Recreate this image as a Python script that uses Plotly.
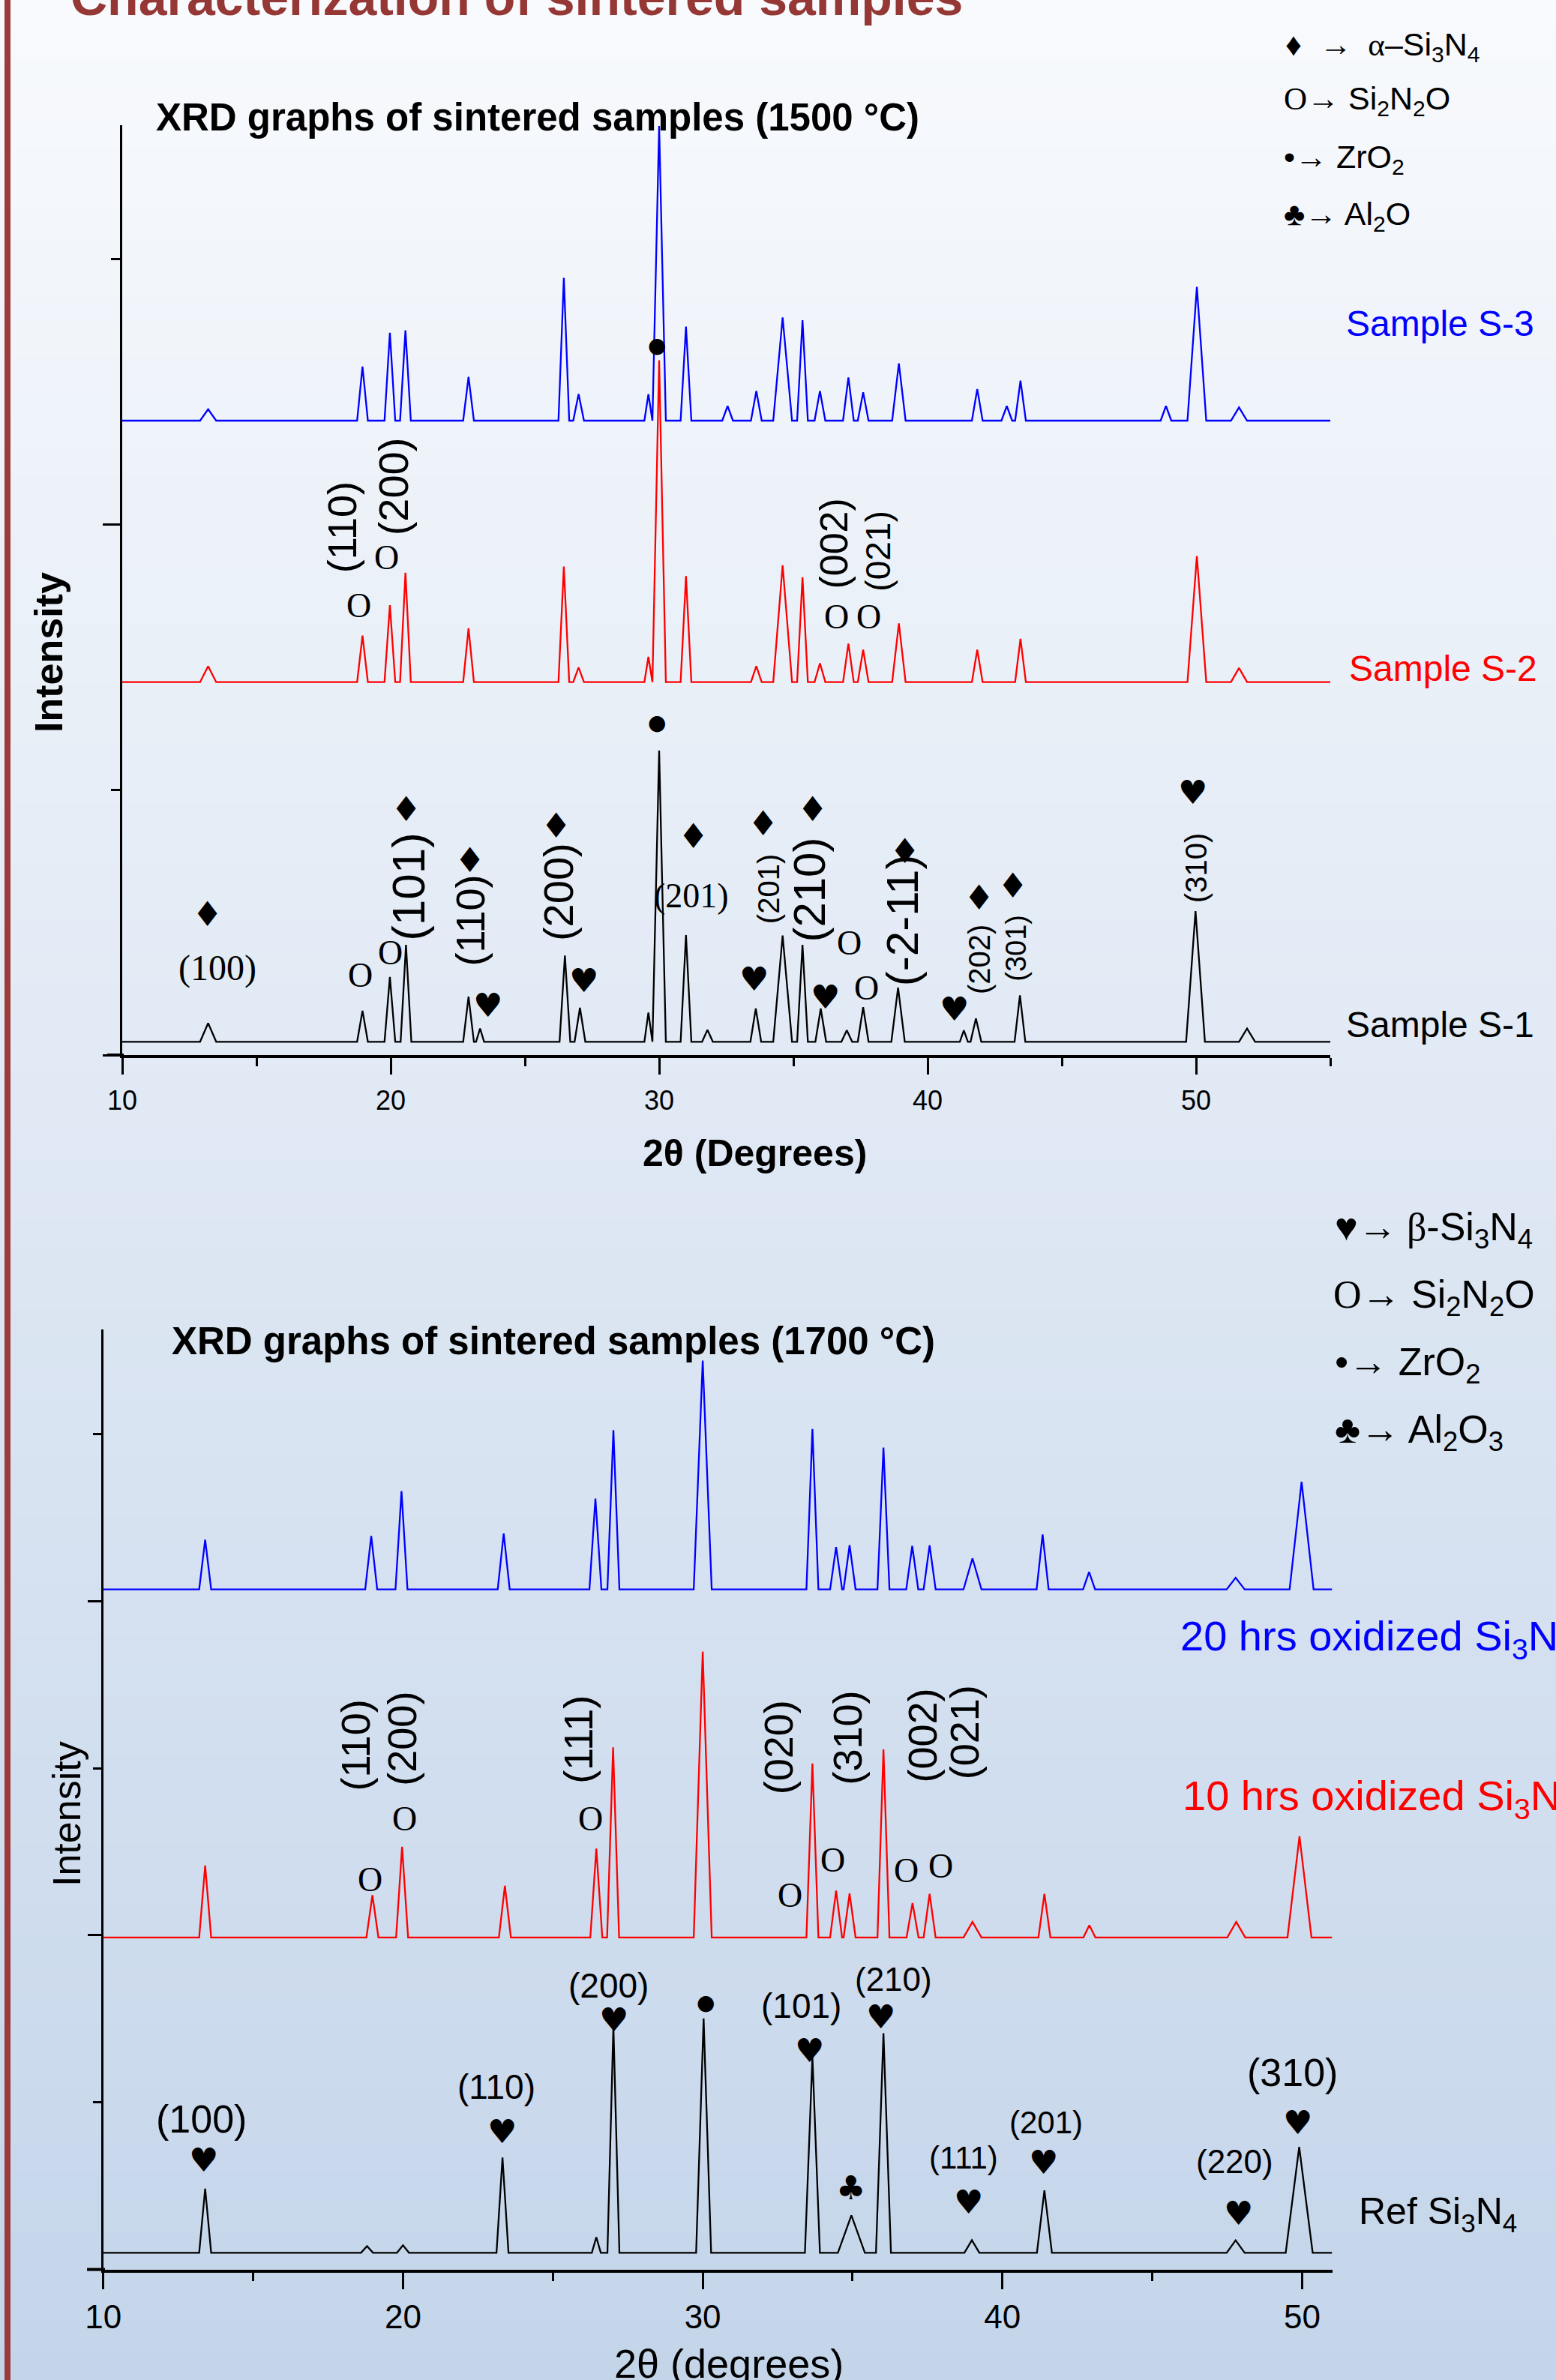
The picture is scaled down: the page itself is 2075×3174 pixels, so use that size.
import plotly.graph_objects as go

W, H = 2075, 3174
SANS = "Liberation Sans"
SERIF = "Liberation Serif"
SYM = "DejaVu Sans"

# ---------------- data : 1500 °C panel ----------------
s3_base = 2390
s3_pos = [13.2, 18.95, 19.97, 20.55, 22.9, 26.45, 27.0, 29.6, 30.0, 31.0, 32.55, 33.62, 34.6, 35.34,
          35.99, 37.05, 37.6, 38.93, 41.85, 42.95, 43.46, 48.88, 50.03, 51.6]
s3_int = [2433, 2594, 2721, 2730, 2555, 2928, 2490, 2490, 3500, 2744, 2445, 2502, 2779, 2768,
          2502, 2553, 2497, 2606, 2509, 2445, 2541, 2445, 2894, 2440]
s3_hw = [0.3, 0.2, 0.2, 0.2, 0.2, 0.2, 0.2, 0.15, 0.25, 0.2, 0.2, 0.2, 0.35, 0.2,
         0.2, 0.2, 0.2, 0.25, 0.2, 0.2, 0.2, 0.2, 0.35, 0.3]

s2_base = 1405
s2_pos = [13.2, 18.95, 19.97, 20.55, 22.9, 26.45, 27.0, 29.6, 30.0, 31.0, 33.62, 34.6, 35.34,
          35.99, 37.05, 37.6, 38.93, 41.85, 43.46, 50.03, 51.6]
s2_int = [1465, 1580, 1695, 1817, 1608, 1840, 1460, 1500, 2617, 1804, 1465, 1845, 1800,
          1476, 1550, 1527, 1626, 1527, 1568, 1880, 1458]
s2_hw = [0.3, 0.2, 0.2, 0.2, 0.2, 0.2, 0.2, 0.15, 0.25, 0.2, 0.2, 0.35, 0.2,
         0.2, 0.2, 0.2, 0.25, 0.2, 0.2, 0.35, 0.3]

s1_base = 50
s1_pos = [13.2, 18.95, 19.97, 20.57, 22.9, 23.33, 26.49, 27.05, 29.6, 30.0, 31.0, 31.8, 33.6, 34.6,
          35.34, 36.02, 36.99, 37.6, 38.9, 41.35, 41.8, 43.44, 49.98, 51.9]
s1_int = [120, 167, 294, 415, 220, 100, 375, 178, 160, 1147, 452, 95, 175, 450,
          415, 175, 93, 180, 254, 93, 138, 225, 542, 100]
s1_hw = [0.3, 0.2, 0.2, 0.2, 0.2, 0.15, 0.2, 0.2, 0.15, 0.25, 0.2, 0.2, 0.2, 0.35,
         0.2, 0.2, 0.2, 0.2, 0.25, 0.15, 0.2, 0.2, 0.35, 0.3]

# ---------------- data : 1700 °C panel ----------------
h20_base = 4070
h20_pos = [13.4, 18.94, 19.95, 23.36, 26.42, 27.02, 30.0, 33.66, 34.45, 34.9, 36.03, 36.99, 37.57,
           39.0, 41.34, 42.89, 47.78, 49.98]
h20_int = [4368, 4390, 4658, 4405, 4614, 5023, 5440, 5030, 4324, 4335, 4919, 4331, 4334,
           4256, 4399, 4175, 4140, 4714]
h20_hw = [0.2, 0.2, 0.2, 0.2, 0.2, 0.2, 0.3, 0.2, 0.2, 0.2, 0.2, 0.2, 0.2, 0.3, 0.2, 0.2, 0.3, 0.4]

h10_base = 1987
h10_pos = [13.4, 18.98, 19.97, 23.4, 26.45, 27.01, 30.0, 33.66, 34.45, 34.9, 36.03, 37.0, 37.57,
           39.0, 41.4, 42.9, 47.8, 49.91]
h10_int = [2418, 2240, 2530, 2296, 2519, 3125, 3698, 3029, 2267, 2250, 3113, 2193, 2248,
           2080, 2248, 2060, 2080, 2593]
h10_hw = [0.2, 0.2, 0.2, 0.2, 0.2, 0.2, 0.3, 0.2, 0.2, 0.2, 0.2, 0.2, 0.2, 0.3, 0.2, 0.2, 0.3, 0.4]

ref_base = 100
ref_pos = [13.4, 18.8, 20.0, 23.32, 26.45, 27.02, 30.03, 33.66, 34.96, 36.03, 38.98, 41.4, 47.78, 49.9]
ref_int = [484, 140, 145, 670, 193, 1459, 1503, 1272, 324, 1414, 175, 473, 175, 733]
ref_hw = [0.2, 0.2, 0.2, 0.2, 0.15, 0.2, 0.25, 0.25, 0.45, 0.25, 0.25, 0.25, 0.3, 0.45]

xticks_top = [10, 20, 30, 40, 50]
xticks_bot = [10, 20, 30, 40, 50]

DS, HS, BS, CS = 46, 44, 28, 44   # glyph sizes for ♦ ♥ ● ♣

# peak labels : (text, 2theta, intensity, size, family, angle)
top_labels = [
    ("♦", 13.17, 531, DS, SYM, 0), ("(100)", 13.54, 328, 48, SERIF, 0),
    ("O", 18.87, 302, 46, SERIF, 0), ("O", 19.99, 387, 46, SERIF, 0),
    ("(101)", 20.67, 636, 62, SANS, -90), ("♦", 20.57, 927, DS, SYM, 0),
    ("(110)", 22.97, 508, 54, SANS, -90), ("♦", 22.94, 734, DS, SYM, 0),
    ("♥", 23.63, 189, HS, SYM, 0),
    ("(200)", 26.23, 613, 56, SANS, -90), ("♦", 26.15, 864, DS, SYM, 0),
    ("♥", 27.2, 282, HS, SYM, 0), ("●", 29.93, 1253, BS, SYM, 0),
    ("♦", 31.27, 825, DS, SYM, 0), ("(201)", 31.2, 600, 46, SERIF, 0),
    ("♥", 33.52, 288, HS, SYM, 0), ("(201)", 34.08, 624, 40, SANS, -90),
    ("♦", 33.88, 873, DS, SYM, 0),
    ("(210)", 35.6, 624, 60, SANS, -90), ("♦", 35.72, 927, DS, SYM, 0),
    ("♥", 36.18, 220, HS, SYM, 0),
    ("O", 37.09, 421, 46, SERIF, 0), ("O", 37.72, 254, 46, SERIF, 0),
    ("(-2-11)", 39.05, 508, 60, SANS, -90), ("♦", 39.16, 768, DS, SYM, 0),
    ("♥", 41.0, 175, HS, SYM, 0),
    ("(202)", 41.93, 359, 40, SANS, -90), ("♦", 41.91, 593, DS, SYM, 0),
    ("(301)", 43.29, 404, 38, SANS, -90), ("♦", 43.18, 638, DS, SYM, 0),
    ("(310)", 50.0, 703, 40, SANS, -90), ("♥", 49.88, 989, HS, SYM, 0),
    ("(110)", 18.19, 1989, 54, SANS, -90), ("(200)", 20.09, 2141, 56, SANS, -90),
    ("O", 18.82, 1695, 46, SERIF, 0), ("O", 19.84, 1873, 46, SERIF, 0),
    ("(002)", 36.5, 1927, 52, SANS, -90), ("(021)", 38.17, 1898, 46, SANS, -90),
    ("O", 36.6, 1650, 46, SERIF, 0), ("O", 37.8, 1650, 46, SERIF, 0),
    ("●", 29.93, 2675, BS, SYM, 0),
]

bot_labels = [
    ("(100)", 13.28, 901, 52, SANS, 0), ("♥", 13.34, 657, HS, SYM, 0),
    ("(110)", 23.12, 1094, 46, SANS, 0), ("♥", 23.3, 826, HS, SYM, 0),
    ("(200)", 26.85, 1700, 46, SANS, 0), ("♥", 27.02, 1497, HS, SYM, 0),
    ("●", 30.1, 1600, BS, SYM, 0),
    ("(101)", 33.29, 1578, 46, SANS, 0), ("♥", 33.55, 1310, HS, SYM, 0),
    ("(210)", 36.37, 1737, 44, SANS, 0), ("♥", 35.95, 1515, HS, SYM, 0),
    ("♣", 34.93, 491, CS, SYM, 0),
    ("(111)", 38.7, 670, 42, SANS, 0), ("♥", 38.87, 405, HS, SYM, 0),
    ("(201)", 41.45, 882, 42, SANS, 0), ("♥", 41.36, 640, HS, SYM, 0),
    ("(220)", 47.76, 648, 44, SANS, 0), ("♥", 47.88, 335, HS, SYM, 0),
    ("(310)", 49.68, 1180, 52, SANS, 0), ("♥", 49.84, 882, HS, SYM, 0),
    ("(110)", 18.4, 3140, 54, SANS, -90), ("(200)", 19.97, 3178, 54, SANS, -90),
    ("O", 18.91, 2333, 46, SERIF, 0), ("O", 20.04, 2696, 46, SERIF, 0),
    ("(111)", 25.84, 3171, 54, SANS, -90), ("O", 26.25, 2696, 46, SERIF, 0),
    ("(020)", 32.53, 3126, 54, SANS, -90), ("(310)", 34.82, 3181, 54, SANS, -90),
    ("(002)", 37.33, 3196, 54, SANS, -90), ("(021)", 38.73, 3215, 54, SANS, -90),
    ("O", 32.9, 2240, 46, SERIF, 0), ("O", 34.34, 2453, 46, SERIF, 0),
    ("O", 36.78, 2390, 46, SERIF, 0), ("O", 37.95, 2416, 46, SERIF, 0),
]


def profile(base, pos, inten, hw, x0, x1):
    xs, ys = [x0], [base]
    for p, h, w in zip(pos, inten, hw):
        xs += [p - w, p, p + w]
        ys += [base, h, base]
    xs.append(x1)
    ys.append(base)
    return xs, ys


def px(x):
    return x / W


def py(y):
    return 1 - y / H


fig = go.Figure()

series = [
    (s3_base, s3_pos, s3_int, s3_hw, 10, 55, "#0000ff", "x", "y"),
    (s2_base, s2_pos, s2_int, s2_hw, 10, 55, "#ff0000", "x", "y"),
    (s1_base, s1_pos, s1_int, s1_hw, 10, 55, "#000000", "x", "y"),
    (h20_base, h20_pos, h20_int, h20_hw, 10, 51, "#0000ff", "x2", "y2"),
    (h10_base, h10_pos, h10_int, h10_hw, 10, 51, "#ff0000", "x2", "y2"),
    (ref_base, ref_pos, ref_int, ref_hw, 10, 51, "#000000", "x2", "y2"),
]
for base, pos, inten, hw, x0, x1, col, xa, ya in series:
    xs, ys = profile(base, pos, inten, hw, x0, x1)
    fig.add_trace(go.Scatter(x=xs, y=ys, mode="lines", line=dict(color=col, width=2.3),
                             xaxis=xa, yaxis=ya, showlegend=False, hoverinfo="skip"))

annotations = []
for t, x, y, s, fam, ang in top_labels:
    annotations.append(dict(text=t, x=x, y=y, xref="x", yref="y", showarrow=False,
                            textangle=ang, font=dict(size=s, family=fam, color="black")))
for t, x, y, s, fam, ang in bot_labels:
    annotations.append(dict(text=t, x=x, y=y, xref="x2", yref="y2", showarrow=False,
                            textangle=ang, font=dict(size=s, family=fam, color="black")))


def ptext(text, x, y, size, family=SANS, color="black", xanchor="left", yanchor="middle", angle=0):
    annotations.append(dict(text=text, x=px(x), y=py(y), xref="paper", yref="paper",
                            showarrow=False, xanchor=xanchor, yanchor=yanchor, textangle=angle,
                            font=dict(size=size, family=family, color=color)))


def serif(t):
    return '<span style="font-family:Liberation Serif">%s</span>' % t


# header
ptext("<b>Characterization of sintered samples</b>", 92, -4, 68, SANS, "#953735")
# panel titles
ptext("<b>XRD graphs of sintered samples (1500 °C)</b>", 206, 157, 51)
ptext("<b>XRD graphs of sintered samples (1700 °C)</b>", 227, 1788, 51)
# top legend
ptext("♦  " + serif("→  α") + "–Si<sub>3</sub>N<sub>4</sub>", 1712, 62, 43)
ptext(serif("O→") + " Si<sub>2</sub>N<sub>2</sub>O", 1710, 134, 43)
ptext("•" + serif("→") + " ZrO<sub>2</sub>", 1710, 212, 43)
ptext("♣" + serif("→") + " Al<sub>2</sub>O", 1710, 288, 43)
# bottom legend
ptext("♥" + serif("→ β") + "-Si<sub>3</sub>N<sub>4</sub>", 1778, 1640, 52)
ptext(serif("O→") + " Si<sub>2</sub>N<sub>2</sub>O", 1776, 1730, 52)
ptext("•" + serif("→") + " ZrO<sub>2</sub>", 1778, 1820, 52)
ptext("♣" + serif("→") + " Al<sub>2</sub>O<sub>3</sub>", 1778, 1910, 52)
# sample labels
ptext("Sample S-3", 1793, 431, 48, SANS, "#0000ff")
ptext("Sample S-2", 1797, 891, 48, SANS, "#ff0000")
ptext("Sample S-1", 1793, 1366, 48, SANS, "black")
ptext("20 hrs oxidized Si<sub>3</sub>N<sub>4</sub>", 1572, 2185, 56, SANS, "#0000ff")
ptext("10 hrs oxidized Si<sub>3</sub>N<sub>4</sub>", 1575, 2398, 56, SANS, "#ff0000")
ptext("Ref Si<sub>3</sub>N<sub>4</sub>", 1810, 2952, 50, SANS, "black")
# axis titles
ptext("<b>2θ (Degrees)</b>", 1006, 1538, 50, SANS, "black", xanchor="center")
ptext("<b>Intensity</b>", 65, 870, 52, SANS, "black", xanchor="center", angle=-90)
ptext("Intensity", 89, 2419, 52, SANS, "black", xanchor="center", angle=-90)
ptext("2θ (degrees)", 972, 3152, 54, SANS, "black", xanchor="center")

# background gradient, left border, axis-line stubs
shapes = []
top_c = (248, 250, 253)
bot_c = (196, 213, 234)
nb = 80
for i in range(nb):
    f = (i + 0.5) / nb
    c = tuple(int(round(top_c[k] + (bot_c[k] - top_c[k]) * f)) for k in range(3))
    shapes.append(dict(type="rect", xref="paper", yref="paper", x0=0, x1=1,
                       y0=1 - (i + 1) / nb - 0.001, y1=1 - i / nb, layer="below",
                       line=dict(width=0), fillcolor="rgb(%d,%d,%d)" % c))
shapes.append(dict(type="rect", xref="paper", yref="paper", x0=px(6), x1=px(14), y0=0, y1=1,
                   layer="above", line=dict(width=0), fillcolor="#9b3b3b"))
shapes.append(dict(type="line", xref="paper", yref="paper", x0=px(143), x1=px(165),
                   y0=py(1407), y1=py(1407), line=dict(color="black", width=4)))
shapes.append(dict(type="line", xref="paper", yref="paper", x0=px(116), x1=px(140),
                   y0=py(3026.6), y1=py(3026.6), line=dict(color="black", width=4)))

xaxis_common = dict(showline=True, linecolor="black", ticks="outside", tickcolor="black",
                    showgrid=False, zeroline=False, automargin=False)
yaxis_common = dict(showline=True, linecolor="black", linewidth=3, ticks="outside",
                    tickcolor="black", tickwidth=3, showgrid=False, zeroline=False,
                    showticklabels=False, automargin=False)

fig.update_layout(
    template="none",
    width=W, height=H, margin=dict(l=0, r=0, t=0, b=0, pad=0, autoexpand=False),
    autosize=False,
    paper_bgcolor="rgb(%d,%d,%d)" % top_c, plot_bgcolor="rgba(0,0,0,0)",
    showlegend=False,
    font=dict(family=SANS, color="black"),
    xaxis=dict(domain=[px(163), px(1774)], range=[10, 55], anchor="y",
               tickmode="array", tickvals=xticks_top, ticktext=[str(v) for v in xticks_top],
               linewidth=4, ticklen=22, tickwidth=3, ticklabelstandoff=4,
               tickfont=dict(family=SANS, color="black", size=36),
               minor=dict(tickvals=[15, 25, 35, 45, 55], ticklen=11, tickwidth=3,
                          ticks="outside", tickcolor="black"),
               **xaxis_common),
    yaxis=dict(domain=[py(1407), py(167)], range=[0, 3503], anchor="x",
               tickmode="array", tickvals=[0, 2000], ticklen=23,
               minor=dict(tickvals=[1000, 3000], ticklen=12, tickwidth=3, ticks="outside",
                          tickcolor="black"),
               **yaxis_common),
    xaxis2=dict(domain=[px(137.7), px(1776.5)], range=[10, 51], anchor="y2",
                tickmode="array", tickvals=xticks_bot, ticktext=[str(v) for v in xticks_bot],
                linewidth=4, ticklen=22, tickwidth=3, ticklabelstandoff=0,
                tickfont=dict(family=SANS, color="black", size=44),
                minor=dict(tickvals=[15, 25, 35, 45], ticklen=11, tickwidth=3,
                           ticks="outside", tickcolor="black"),
                **xaxis_common),
    yaxis2=dict(domain=[py(3026.6), py(1773)], range=[0, 5626], anchor="x2",
                tickmode="array", tickvals=[0, 2000, 4000], ticklen=18,
                minor=dict(tickvals=[1000, 3000, 5000], ticklen=11, tickwidth=3, ticks="outside",
                           tickcolor="black"),
                **yaxis_common),
    annotations=annotations,
    shapes=shapes,
)

fig.write_html("out.html", config={"displayModeBar": False, "staticPlot": True},
               post_script="document.body.style.margin='0px';document.body.style.overflow='hidden';")
